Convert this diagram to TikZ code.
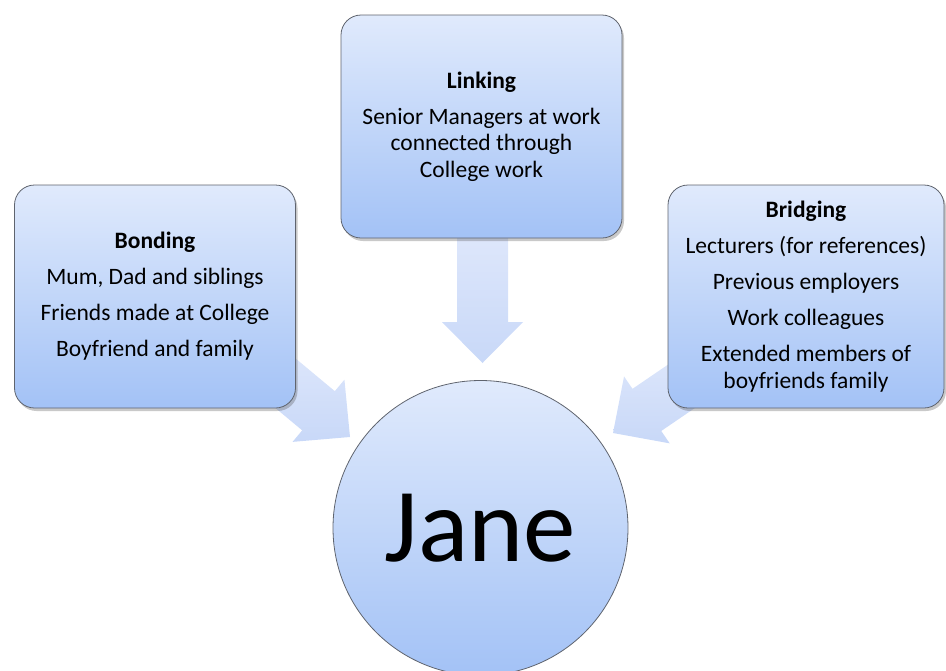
\documentclass[tikz,border=0pt]{standalone}
\usepackage{fontspec}
\setmainfont{Carlito}
\usetikzlibrary{shadows}
\definecolor{boxtop}{RGB}{224,234,252}
\definecolor{boxbot}{RGB}{163,194,246}
\definecolor{arrtop}{RGB}{222,231,251}
\definecolor{arrbot}{RGB}{200,216,248}
\definecolor{edge}{RGB}{95,100,110}
\tikzset{
  box/.style={rectangle, rounded corners=20pt, draw=edge, line width=0.8pt,
    top color=boxtop, bottom color=boxbot, align=center,
    font=\fontsize{23.5}{26.5}\selectfont, inner sep=0pt,
    drop shadow={shadow xshift=2pt, shadow yshift=-3pt, opacity=0.3, fill=black!70}},
  hub/.style={circle, draw=edge, line width=0.8pt, top color=boxtop, bottom color=boxbot,
    inner sep=0pt, font=\fontsize{105}{115}\selectfont},
  blockarrow/.style={top color=arrtop, bottom color=arrbot, draw=none},
}
\newcommand{\blkarrow}[3]{% tip, angle, length
  \begin{scope}[shift={(#1)}, rotate=#2]
    \path[blockarrow] (0,0) -- (-41,40.5) -- (-41,25.5) -- (-#3,25.5) -- (-#3,-25.5)
      -- (-41,-25.5) -- (-41,-40.5) -- cycle;
  \end{scope}}
\begin{document}
\begin{tikzpicture}[x=1pt,y=-1pt]
\useasboundingbox (0,0) rectangle (946,670);
\begin{scope}
\clip (0,0) rectangle (946,670);
% arrow tips
\coordinate (tipL) at (350,437);
\coordinate (tipD) at (482.5,363);
\coordinate (tipR) at (613,433);
\blkarrow{tipL}{-39.8}{110}
\blkarrow{tipD}{-90}{130}
\blkarrow{tipR}{-145.7}{110}
% boxes
\node[box, minimum width=281pt, minimum height=223pt] (bond) at (155,296.5)
  {\textbf{Bonding}\\[9.5pt]Mum, Dad and siblings\\[9.5pt]Friends made at College\\[9.5pt]Boyfriend and family};
\node[box, minimum width=281pt, minimum height=223pt] (link) at (481.5,126.5)
  {\textbf{Linking}\\[9.5pt]Senior Managers at work\\connected through\\College work};
\node[box, minimum width=276pt, minimum height=223pt] (bridge) at (806,296.5)
  {\textbf{Bridging}\\[9.5pt]Lecturers (for references)\\[9.5pt]Previous employers\\[9.5pt]Work colleagues\\[9.5pt]Extended members of\\boyfriends family};
\node[hub, minimum size=295pt] (jane) at (480.5,528) {Jane};
\end{scope}
\end{tikzpicture}
\end{document}
